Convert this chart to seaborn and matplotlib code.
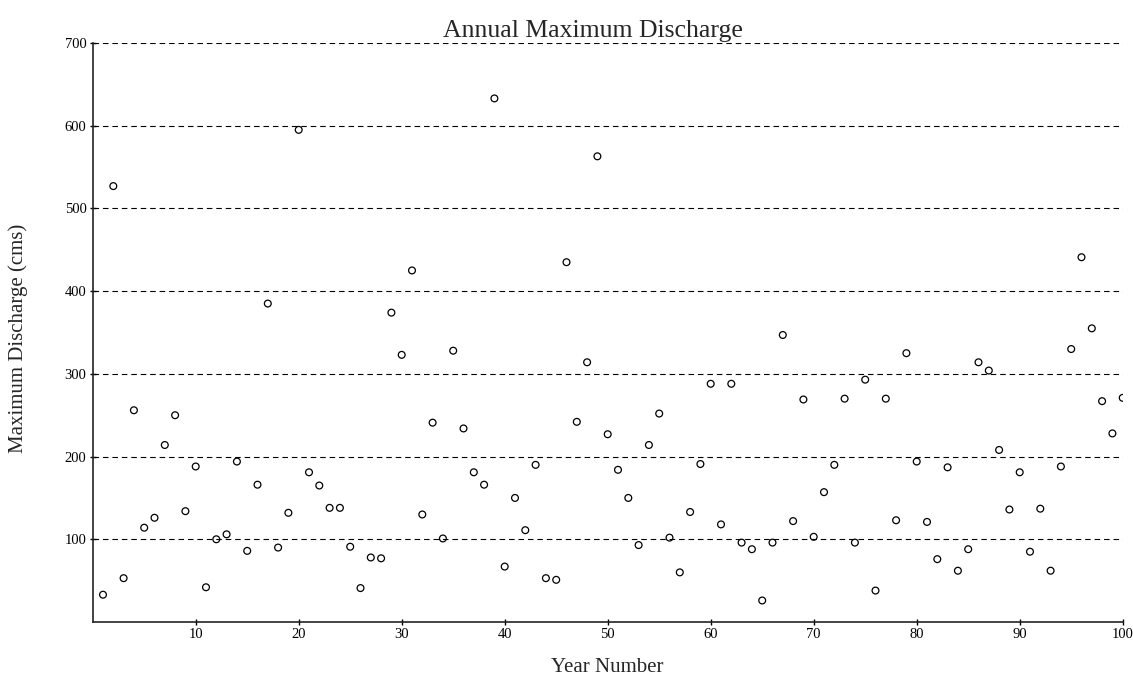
import matplotlib
matplotlib.use("Agg")
import matplotlib.pyplot as plt
import seaborn as sns
import numpy as np
import pandas as pd

# ---- data ----
years = list(range(1, 101))
discharge = [
    33, 527, 53, 256, 114, 126, 214, 250, 134, 188,
    42, 100, 106, 194, 86, 166, 385, 90, 132, 595,
    181, 165, 138, 138, 91, 41, 78, 77, 374, 323,
    425, 130, 241, 101, 328, 234, 181, 166, 633, 67,
    150, 111, 190, 53, 51, 435, 242, 314, 563, 227,
    184, 150, 93, 214, 252, 102, 60, 133, 191, 288,
    118, 288, 96, 88, 26, 96, 347, 122, 269, 103,
    157, 190, 270, 96, 293, 38, 270, 123, 325, 194,
    121, 76, 187, 62, 88, 314, 304, 208, 136, 181,
    85, 137, 62, 188, 330, 441, 355, 267, 228, 271,
]
x_ticks = [10, 20, 30, 40, 50, 60, 70, 80, 90, 100]
y_ticks = [100, 200, 300, 400, 500, 600, 700]
title = "Annual Maximum Discharge"
x_label = "Year Number"
y_label = "Maximum Discharge (cms)"

df = pd.DataFrame({"Year": years, "Discharge": discharge})

sns.set_style("ticks")
plt.rcParams["font.family"] = ["Liberation Serif", "DejaVu Serif"]

fig = plt.figure(figsize=(11.33, 6.86), dpi=100)
ax = fig.add_axes([92.7 / 1133, 1 - 622 / 686, 1030 / 1133, 579 / 686])

sns.scatterplot(data=df, x="Year", y="Discharge", ax=ax, s=24,
                facecolors="none", edgecolor="black", linewidth=0.9,
                marker="o", zorder=3)

ax.set_xlim(0, 100)
ax.set_ylim(0, 700)
ax.set_xticks(x_ticks)
ax.set_yticks(y_ticks)

for yv in y_ticks:
    ax.axhline(yv, color="black", lw=0.8, linestyle=(0, (5, 3.5)), zorder=1)

for side in ["top", "right"]:
    ax.spines[side].set_visible(False)
for side in ["left", "bottom"]:
    ax.spines[side].set_color("#222222")
    ax.spines[side].set_linewidth(1.2)

ax.tick_params(axis="both", direction="inout", length=5, width=1,
               labelsize=10.5, colors="black", pad=2)

ax.set_title(title, fontsize=18.5, x=0.4857, pad=4)
ax.set_xlabel(x_label, fontsize=15)
ax.set_ylabel(y_label, fontsize=15)
ax.xaxis.set_label_coords(0.5, -0.062)
ax.yaxis.set_label_coords(-0.063, 0.49)

fig.savefig("out.png", dpi=100)
